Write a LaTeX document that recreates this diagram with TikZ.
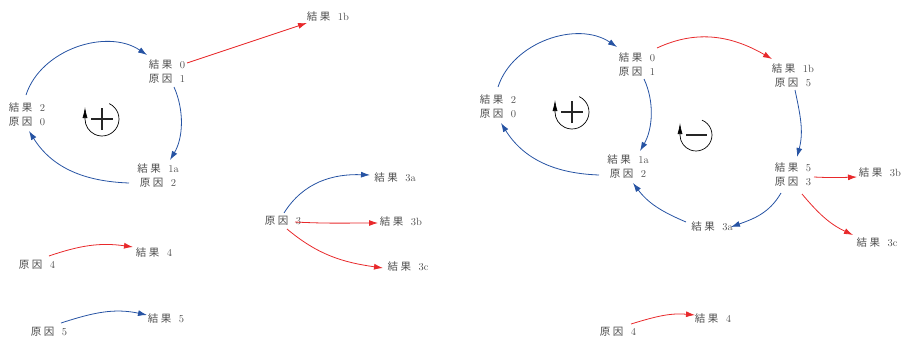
\documentclass[tikz,border=0pt]{standalone}
\usepackage{fontspec}
\usetikzlibrary{arrows.meta}
\newfontfamily\cjkf{Noto Sans CJK JP}
\definecolor{lblue}{HTML}{2653A3}
\definecolor{lred}{HTML}{E8292B}
\definecolor{tgray}{HTML}{505050}
\newcommand\kx{{\cjkf 結\kern2.5pt 果}\kern7.5pt }
\newcommand\gy{{\cjkf 原\kern2.5pt 因}\kern7.5pt }
\begin{document}
\begin{tikzpicture}[x=1pt,y=1pt,
  lbl/.style={text=tgray,font=\fontsize{10.5}{14}\selectfont,align=center,inner sep=0pt},
  link/.style={line width=0.8pt,-{Latex[length=9pt,width=6pt]}},
  bluelink/.style={link,draw=lblue},
  redlink/.style={link,draw=lred},
  loopc/.style={line width=0.7pt,draw=black,-{Latex[length=11pt,width=5pt]}},
  sign/.style={line width=1.4pt,draw=black!85}]
\useasboundingbox (0,0) rectangle (903,341);

% ---------- left group ----------
\node[lbl] (A0)  at (167,269) {\kx 0\\\gy 1};
\node[lbl] (A1b) at (328,324) {\kx 1b};
\node[lbl] (A2)  at (27,226)  {\kx 2\\\gy 0};
\node[lbl] (A1a) at (158,165) {\kx 1a\\\gy 2};
\node[lbl] (A3)  at (283,120) {\gy 3};
\node[lbl] (A3a) at (395,163) {\kx 3a};
\node[lbl] (A3b) at (401,119) {\kx 3b};
\node[lbl] (A3c) at (408,74)  {\kx 3c};
\node[lbl] (A4c) at (37,76)   {\gy 4};
\node[lbl] (A4)  at (154,88)  {\kx 4};
\node[lbl] (A5c) at (49,9)    {\gy 5};
\node[lbl] (A5)  at (166,22)  {\kx 5};

\draw[bluelink] ([shift={(-1,20)}]A2.center) to[out=72,in=146,looseness=0.97] ([shift={(-20,17)}]A0.center);
\draw[bluelink] ([shift={(7,-15)}]A0.center) to[out=-66,in=59,looseness=0.9] ([shift={(12,16)}]A1a.center);
\draw[bluelink] ([shift={(-29,-7)}]A1a.center) to[out=178,in=-58] ([shift={(2,-16)}]A2.center);
\draw[redlink] ([shift={(20,9)}]A0.center) -- ([shift={(-21,-6)}]A1b.center);
\draw[bluelink] ([shift={(1,8)}]A3.center) to[out=58,in=178] ([shift={(-25,3)}]A3a.center);
\draw[redlink] ([shift={(12,-1)}]A3.center) to[out=-3,in=180] ([shift={(-23,-1)}]A3b.center);
\draw[redlink] ([shift={(4,-8)}]A3.center) to[out=-40,in=172] ([shift={(-25,-1)}]A3c.center);
\draw[redlink] ([shift={(12,9)}]A4c.center) to[out=19,in=172] ([shift={(-21,6)}]A4.center);
\draw[bluelink] ([shift={(12,9)}]A5c.center) to[out=18,in=168] ([shift={(-19,4)}]A5.center);

% loop symbol (+)
\coordinate (LA) at (102,222);
\draw[loopc] (LA) ++(65:17) arc (65:-180:17) -- ++(0,12);
\draw[sign] ([xshift=-11]LA) -- ([xshift=11]LA) ([yshift=-11]LA) -- ([yshift=11]LA);

% ---------- right group ----------
\node[lbl] (B0)  at (637,276) {\kx 0\\\gy 1};
\node[lbl] (B2)  at (498,234) {\kx 2\\\gy 0};
\node[lbl] (B1a) at (628,174) {\kx 1a\\\gy 2};
\node[lbl] (B1b) at (793,265) {\kx 1b\\\gy 5};
\node[lbl] (B5)  at (793,166) {\kx 5\\\gy 3};
\node[lbl] (B3a) at (712,114) {\kx 3a};
\node[lbl] (B3b) at (880,168) {\kx 3b};
\node[lbl] (B3c) at (877,98)  {\kx 3c};
\node[lbl] (B4c) at (618,9)   {\gy 4};
\node[lbl] (B4)  at (713,22)  {\kx 4};

\draw[bluelink] ([shift={(0,20)}]B2.center) to[out=72,in=146,looseness=0.97] ([shift={(-20,18)}]B0.center);
\draw[bluelink] ([shift={(7,-14)}]B0.center) to[out=-65,in=60,looseness=0.9] ([shift={(12,16)}]B1a.center);
\draw[bluelink] ([shift={(-29,-8)}]B1a.center) to[out=178,in=-58] ([shift={(3,-16)}]B2.center);
\draw[redlink] ([shift={(20,17)}]B0.center) to[out=25,in=150] ([shift={(-21,17)}]B1b.center);
\draw[bluelink] ([shift={(2,-14)}]B1b.center) to[out=-78,in=75] ([shift={(4,18)}]B5.center);
\draw[bluelink] ([shift={(-12,-18)}]B5.center) to[out=-120,in=20] ([shift={(19,0)}]B3a.center);
\draw[bluelink] ([shift={(-26,5)}]B3a.center) to[out=157,in=-53] ([shift={(5,-16)}]B1a.center);
\draw[redlink] ([shift={(21,-2)}]B5.center) to[out=-3,in=182] ([shift={(-23,-4)}]B3b.center);
\draw[redlink] ([shift={(9,-19)}]B5.center) to[out=-50,in=155] ([shift={(-24,8)}]B3c.center);
\draw[redlink] ([shift={(13,8)}]B4c.center) to[out=17,in=175] ([shift={(-18,4)}]B4.center);

% loop symbol (+)
\coordinate (LB) at (572,229);
\draw[loopc] (LB) ++(65:17) arc (65:-180:17) -- ++(0,12);
\draw[sign] ([xshift=-11]LB) -- ([xshift=11]LB) ([yshift=-11]LB) -- ([yshift=11]LB);

% loop symbol (-)
\coordinate (LC) at (696,206);
\draw[loopc] (LC) ++(68:16) arc (68:-180:16) -- ++(0,12);
\draw[sign] ([xshift=-10]LC) -- ([xshift=11]LC);
\end{tikzpicture}
\end{document}
